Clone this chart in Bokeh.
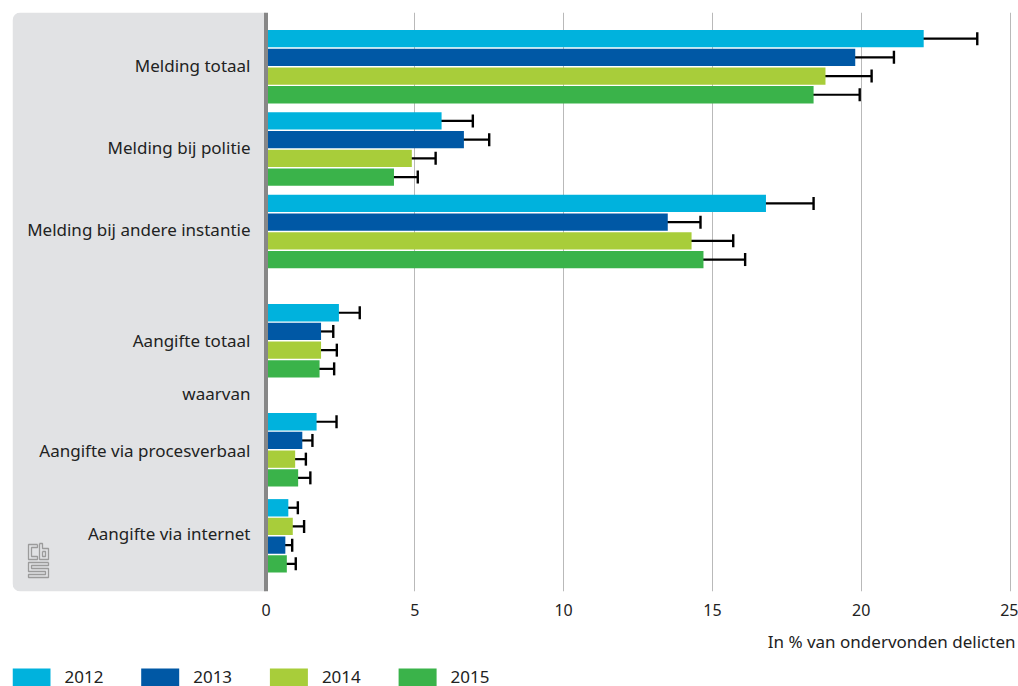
from bokeh.plotting import figure
from bokeh.layouts import column
from bokeh.models import (Range1d, FixedTicker, Whisker, TeeHead, ColumnDataSource,
                          Span, BoxAnnotation)
from bokeh.core.properties import value
from bokeh.embed import file_html
from bokeh.resources import INLINE

# ---------------- data ----------------
categories = ["Melding totaal", "Melding bij politie", "Melding bij andere instantie",
              "Aangifte totaal", "Aangifte via procesverbaal", "Aangifte via internet"]
extra_label = "waarvan"
years = ["2012", "2013", "2014", "2015"]

v2012 = [22.1, 5.9, 16.8, 2.45, 1.70, 0.75]
lo2012 = [20.3, 4.9, 15.3, 1.75, 1.08, 0.38]
hi2012 = [23.9, 6.95, 18.4, 3.15, 2.37, 1.07]

v2013 = [19.8, 6.65, 13.5, 1.85, 1.22, 0.65]
lo2013 = [18.5, 5.8, 12.4, 1.44, 0.83, 0.43]
hi2013 = [21.1, 7.5, 14.6, 2.26, 1.56, 0.88]

v2014 = [18.8, 4.9, 14.3, 1.85, 0.98, 0.90]
lo2014 = [17.2, 4.05, 12.9, 1.28, 0.59, 0.49]
hi2014 = [20.35, 5.7, 15.7, 2.38, 1.34, 1.28]

v2015 = [18.4, 4.3, 14.7, 1.80, 1.08, 0.70]
lo2015 = [16.9, 3.5, 13.3, 1.30, 0.69, 0.41]
hi2015 = [19.95, 5.1, 16.1, 2.29, 1.49, 1.00]

ticks = [0, 5, 10, 15, 20, 25]
axis_title = "In % van ondervonden delicten"

values = [v2012, v2013, v2014, v2015]
lows = [lo2012, lo2013, lo2014, lo2015]
highs = [hi2012, hi2013, hi2014, hi2015]

# ---------------- layout / style ----------------
colors = ["#00b2dd", "#0058a5", "#a8cd3a", "#3ab34a"]
group_center = [66.2, 148.5, 231.0, 340.3, 449.3, 535.3]   # page px, downward
label_y = [65, 147, 229, 340, 450, 533]
extra_label_y = 393
slots = [[0, 1, 2, 3]] * 5 + [[0, 2, 1, 3]]   # bar order within each group
pitch = 18.7
bar_h = 17.3

PX = 29.76          # pixels per unit
X0 = 265.5          # page x of value 0
W, H = 1018, 686
FL, FR, FT, FB = 12, W, 12, 591   # frame in page px
H_TOP = 630


def dx(px):
    return (px - X0) / PX


FONT = "Noto Sans"
TXT = "#222222"

p = figure(width=W, height=H_TOP, output_backend="svg", toolbar_location=None,
           x_range=Range1d(dx(FL), dx(FR)), y_range=Range1d(FB, FT),
           y_axis_location=None, min_border_left=FL, min_border_right=0,
           min_border_top=FT, min_border_bottom=H_TOP - FB)
p.outline_line_color = None
p.background_fill_color = "white"
p.border_fill_color = "white"

# gray label panel
panel = BoxAnnotation(right=0, fill_color="#e1e2e4", fill_alpha=1.0, line_color=None,
                      level="underlay", border_radius=(8, 0, 0, 8))
p.add_layout(panel)

# axes / grid
xa = p.xaxis[0]
xa.ticker = FixedTicker(ticks=ticks)
xa.axis_line_color = None
xa.major_tick_line_color = None
xa.minor_tick_line_color = None
xa.major_tick_out = 0
xa.major_tick_in = 0
xa.major_label_standoff = 12
xa.major_label_text_font = FONT
xa.major_label_text_font_size = "16px"
xa.major_label_text_color = TXT
p.xgrid.ticker = FixedTicker(ticks=ticks[1:])
p.xgrid.grid_line_color = "#b9b9b9"
p.xgrid.grid_line_width = 1
p.ygrid.grid_line_color = None

for k, yr in enumerate(years):
    ys = [group_center[i] + (slots[i][k] - 1.5) * pitch for i in range(len(categories))]
    src = ColumnDataSource(dict(y=ys, v=values[k], lo=lows[k], hi=highs[k]))
    p.hbar(y="y", left=0, right="v", height=bar_h, source=src,
           fill_color=colors[k], line_color=None)
    wk = Whisker(base="y", lower="lo", upper="hi", dimension="width", source=src,
                 line_color="black", line_width=2.2,
                 lower_head=TeeHead(size=13, line_width=2.4, line_color="black"),
                 upper_head=TeeHead(size=13, line_width=2.4, line_color="black"))
    p.add_layout(wk)

# axis line at 0
p.add_layout(Span(location=0, dimension="height", line_color="#878787", line_width=4))

# category labels
lab_src = ColumnDataSource(dict(x=[dx(250)] * (len(categories) + 1),
                                y=label_y + [extra_label_y],
                                t=categories + [extra_label]))
p.text(x="x", y="y", text="t", source=lab_src, text_align="right",
       text_baseline="middle", text_font=value(FONT), text_font_size="17px",
       text_color=TXT)

# CBS logo (decoration)
logo_px = [
    [(37, 544), (28, 544), (28, 559), (37, 559), (37, 556), (31, 556), (31, 547), (37, 547), (37, 544)],
    [(39, 543), (42, 543), (42, 548), (48, 548), (48, 559), (39, 559), (39, 543)],
    [(42, 551), (45, 551), (45, 556), (42, 556), (42, 551)],
    [(48, 562), (28, 562), (28, 571), (45, 571), (45, 574), (28, 574), (28, 577), (48, 577),
     (48, 568), (31, 568), (31, 565), (48, 565), (48, 562)],
]
p.multi_line(xs=[[dx(a) for a, b in s] for s in logo_px],
             ys=[[b for a, b in s] for s in logo_px],
             line_color="#9b9b9b", line_width=1.3)

# ---------------- bottom strip: axis title + legend ----------------
# (its frame is aligned with the main frame: page x FL..FR)
q = figure(width=W, height=H - H_TOP, output_backend="svg", toolbar_location=None,
           x_range=Range1d(FL, FR), y_range=Range1d(H, H_TOP),
           x_axis_location=None, y_axis_location=None,
           min_border=0, min_border_left=FL, min_border_right=0,
           min_border_top=0, min_border_bottom=0)
q.outline_line_color = None
q.xgrid.visible = False
q.ygrid.visible = False

q.text(x=[1015], y=[641], text=[axis_title], text_align="right", text_baseline="middle",
       text_font=value(FONT), text_font_size="17px", text_color=TXT)

leg_pitch = 128.7
leg_x = [12 + k * leg_pitch for k in range(len(years))]
q.quad(left=leg_x, right=[x + 38 for x in leg_x], top=[668] * 4, bottom=[686] * 4,
       fill_color=colors, line_color=None)
q.text(x=[x + 52 for x in leg_x], y=[676] * 4, text=years, text_align="left",
       text_baseline="middle", text_font=value(FONT), text_font_size="17px",
       text_color=TXT)

layout = column(p, q, spacing=0)
open("out.html", "w").write(file_html(layout, INLINE))
